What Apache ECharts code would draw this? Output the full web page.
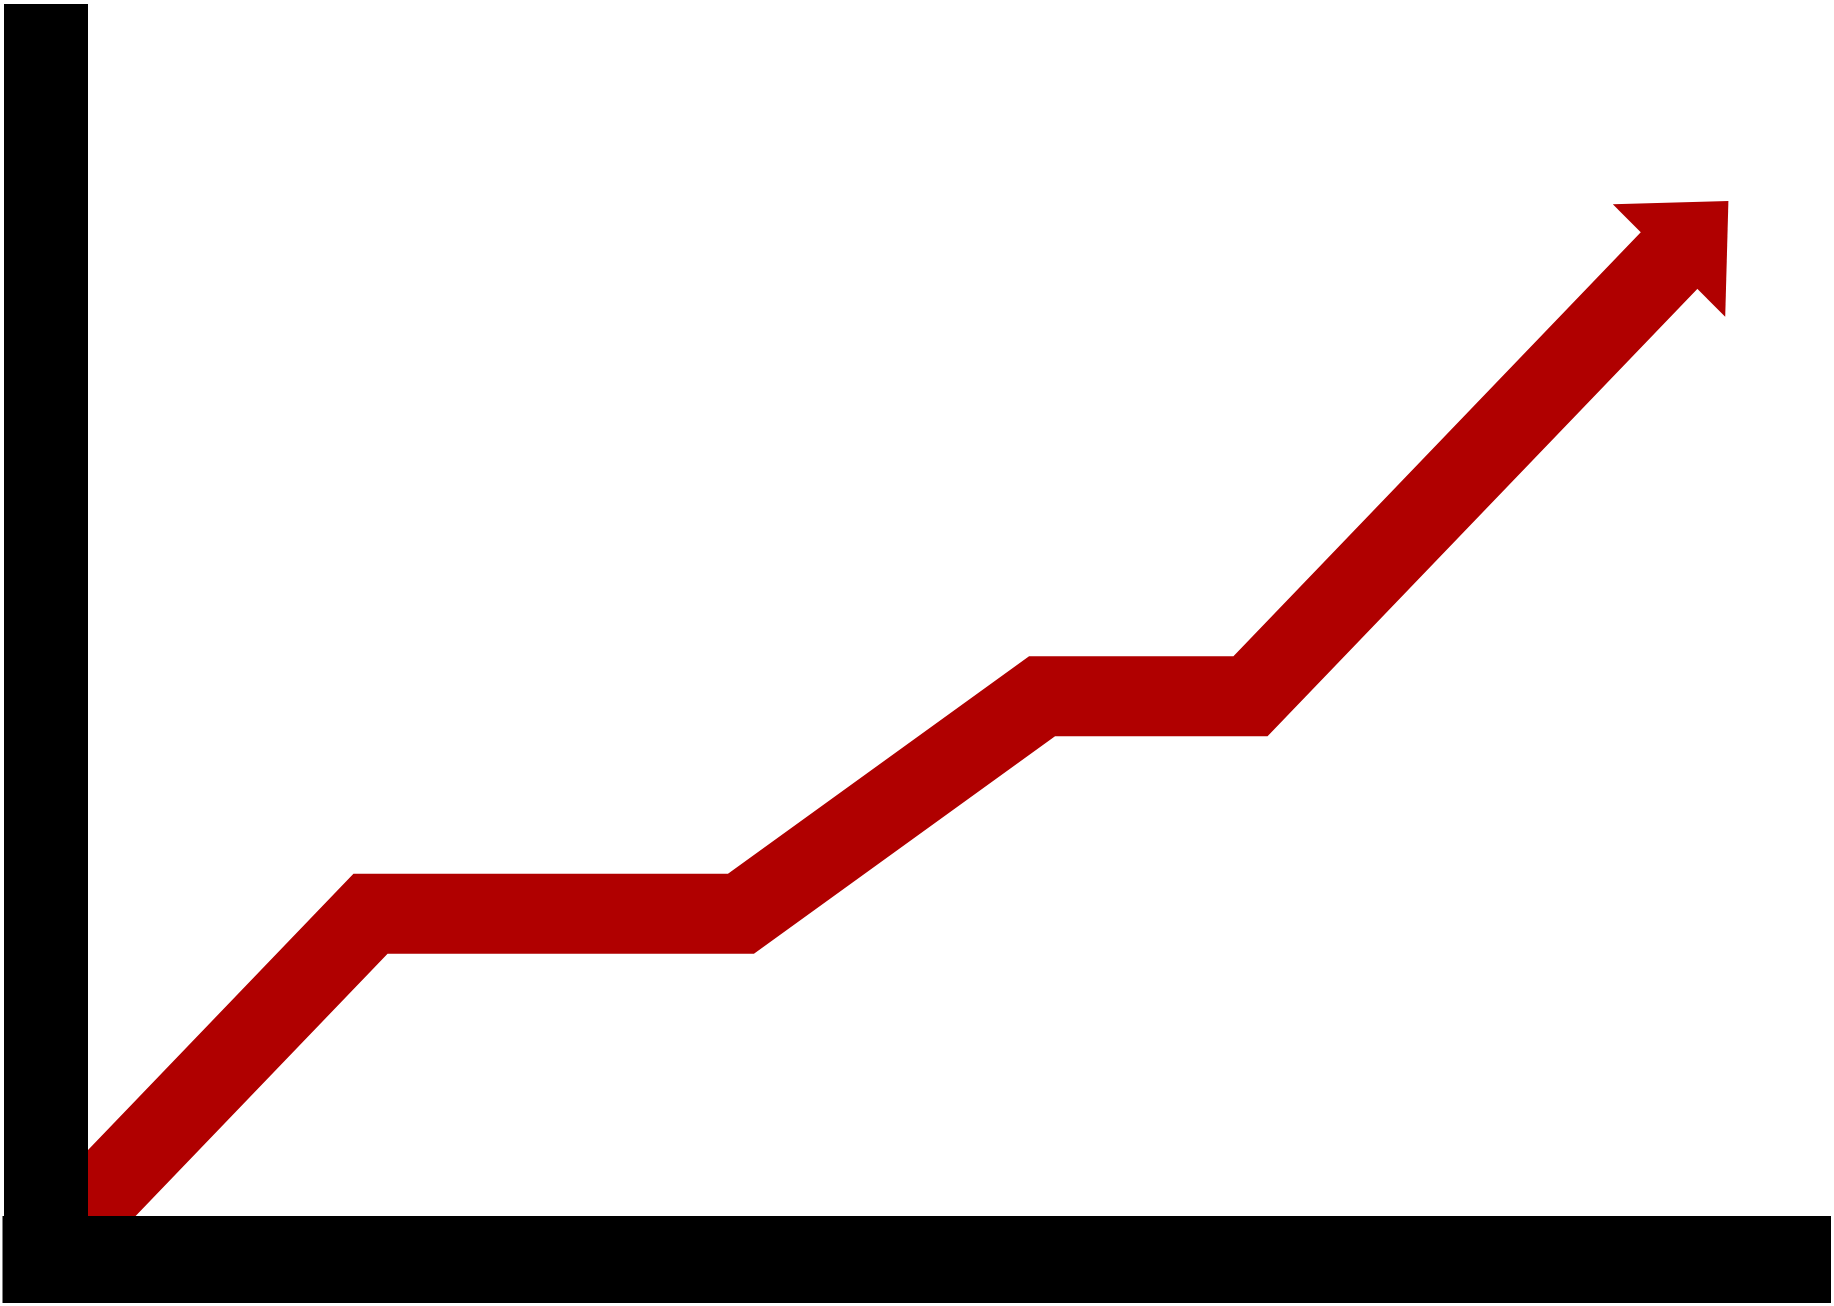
<!DOCTYPE html>
<html>
<head>
<meta charset="utf-8">
<script src="https://cdn.jsdelivr.net/npm/echarts@6/dist/echarts.min.js"></script>
<style>
  html, body { margin: 0; padding: 0; background: #ffffff; }
  #chart { width: 1834px; height: 1306px; }
</style>
</head>
<body>
<div id="chart"></div>
<script>
// Polyline vertices (x along the time axis, y along the value axis)
const xValues = [0, 324.5, 695, 996, 1204.5, 1626.5];
const yValues = [8, 345.8, 345.8, 563.2, 563.2, 1002.5];
const xMax = 1741.5;
const yMax = 1213.5;

const RED = '#b00000';

const seriesData = xValues.map(function (x, i) {
  const item = { value: [x, yValues[i]] };
  if (i === xValues.length - 1) {
    item.symbol = 'triangle';
    item.symbolSize = [159, 84];
    item.symbolRotate = -45;
    item.symbolOffset = [26.2, -26.2];
  }
  return item;
});

const chart = echarts.init(document.getElementById('chart'), null, { renderer: 'canvas' });
chart.setOption({
  animation: false,
  backgroundColor: '#ffffff',
  grid: { left: 46, right: 46.5, top: 46, bottom: 46.5, containLabel: false, outerBoundsMode: 'none' },
  xAxis: {
    type: 'value', min: 0, max: xMax, z: 10,
    axisLine: { show: true, onZero: false, lineStyle: { color: '#000000', width: 87, cap: 'square' } },
    axisTick: { show: false }, axisLabel: { show: false }, splitLine: { show: false }
  },
  yAxis: {
    type: 'value', min: 0, max: yMax, z: 10,
    axisLine: { show: true, onZero: false, lineStyle: { color: '#000000', width: 84, cap: 'square' } },
    axisTick: { show: false }, axisLabel: { show: false }, splitLine: { show: false }
  },
  series: [{
    type: 'line',
    silent: true,
    data: seriesData,
    symbol: 'none',
    showSymbol: true,
    showAllSymbol: true,
    clip: false,
    lineStyle: { color: RED, width: 80, join: 'miter', miterLimit: 10, cap: 'butt' },
    itemStyle: { color: RED, borderWidth: 0 },
    emphasis: { disabled: true }
  }]
});
</script>
</body>
</html>
